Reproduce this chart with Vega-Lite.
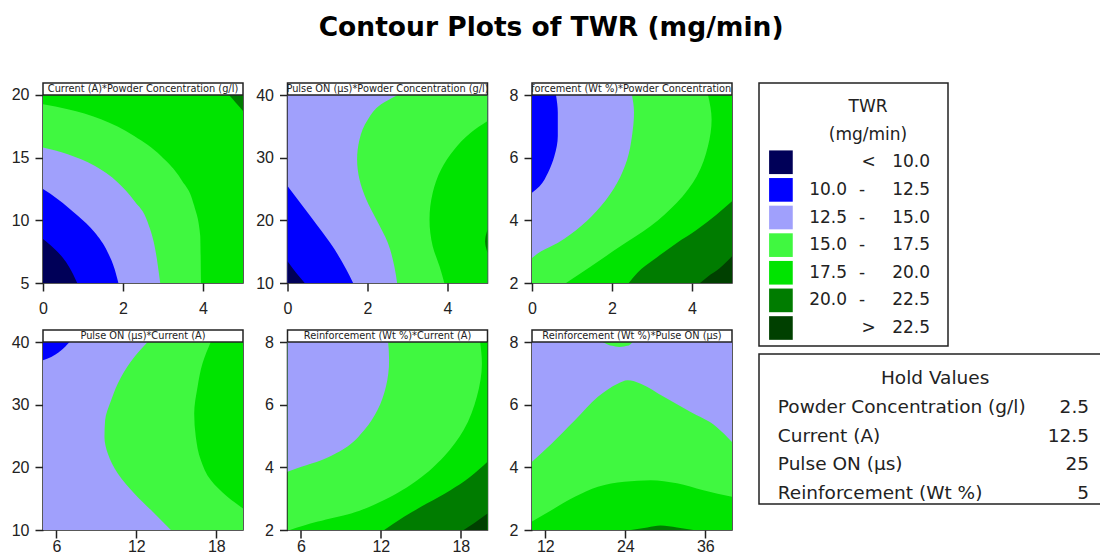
{
"$schema":"https://vega.github.io/schema/vega-lite/v6.json",
"background":"white",
"padding":{"left":10,"top":14,"right":0,"bottom":0},
"title":{"text":"Contour Plots of TWR (mg/min)","fontSize":26.5,"fontWeight":"bold","anchor":"middle","offset":41,"dx":-5,"color":"#000"},
"datasets":{
"p1":[
{"r":"a","l":"17.5-20","x":0,"y":20,"y2":5},{"r":"a","l":"17.5-20","x":5,"y":20,"y2":5},
{"r":"b","l":"15-17.5","x":0,"y":19.26,"y2":5},{"r":"b","l":"15-17.5","x":0.62,"y":18.86,"y2":5},{"r":"b","l":"15-17.5","x":1.45,"y":18.06,"y2":5},{"r":"b","l":"15-17.5","x":2.28,"y":16.73,"y2":5},{"r":"b","l":"15-17.5","x":2.95,"y":15.14,"y2":5},{"r":"b","l":"15-17.5","x":3.45,"y":13.28,"y2":5},{"r":"b","l":"15-17.5","x":3.78,"y":11.16,"y2":5},{"r":"b","l":"15-17.5","x":3.93,"y":8.77,"y2":5},{"r":"b","l":"15-17.5","x":3.95,"y":5,"y2":5},
{"r":"c","l":"12.5-15","x":0,"y":15.81,"y2":5},{"r":"c","l":"12.5-15","x":0.62,"y":15.27,"y2":5},{"r":"c","l":"12.5-15","x":1.29,"y":14.35,"y2":5},{"r":"c","l":"12.5-15","x":1.87,"y":13.02,"y2":5},{"r":"c","l":"12.5-15","x":2.28,"y":11.56,"y2":5},{"r":"c","l":"12.5-15","x":2.62,"y":9.83,"y2":5},{"r":"c","l":"12.5-15","x":2.82,"y":7.44,"y2":5},{"r":"c","l":"12.5-15","x":2.93,"y":5,"y2":5},
{"r":"d","l":"10-12.5","x":0,"y":12.49,"y2":5},{"r":"d","l":"10-12.5","x":0.37,"y":11.69,"y2":5},{"r":"d","l":"10-12.5","x":0.87,"y":10.36,"y2":5},{"r":"d","l":"10-12.5","x":1.29,"y":9.04,"y2":5},{"r":"d","l":"10-12.5","x":1.62,"y":7.44,"y2":5},{"r":"d","l":"10-12.5","x":1.79,"y":6.12,"y2":5},{"r":"d","l":"10-12.5","x":1.885,"y":5,"y2":5},
{"r":"e","l":"<10","x":0,"y":8.51,"y2":5},{"r":"e","l":"<10","x":0.29,"y":7.71,"y2":5},{"r":"e","l":"<10","x":0.58,"y":6.65,"y2":5},{"r":"e","l":"<10","x":0.75,"y":5.72,"y2":5},{"r":"e","l":"<10","x":0.855,"y":5,"y2":5},
{"r":"f","l":"20-22.5","x":4.65,"y":20,"y2":20},{"r":"f","l":"20-22.5","x":4.82,"y":19.39,"y2":20},{"r":"f","l":"20-22.5","x":5,"y":18.73,"y2":20}
],
"p2":[
{"r":"a","l":"12.5-15","x":0,"y":40,"y2":10},{"r":"a","l":"12.5-15","x":5,"y":40,"y2":10},
{"r":"b","l":"10-12.5","x":0,"y":25.46,"y2":10},{"r":"b","l":"10-12.5","x":0.35,"y":22.53,"y2":10},{"r":"b","l":"10-12.5","x":0.76,"y":19.06,"y2":10},{"r":"b","l":"10-12.5","x":1.18,"y":15.33,"y2":10},{"r":"b","l":"10-12.5","x":1.47,"y":12.14,"y2":10},{"r":"b","l":"10-12.5","x":1.64,"y":10,"y2":10},
{"r":"c","l":"<10","x":0,"y":13.47,"y2":10},{"r":"c","l":"<10","x":0.22,"y":11.6,"y2":10},{"r":"c","l":"<10","x":0.43,"y":10,"y2":10},
{"r":"d","l":"15-17.5","y":40,"x":2.76,"x2":5},{"r":"d","l":"15-17.5","y":38.51,"x":2.34,"x2":5},{"r":"d","l":"15-17.5","y":36.11,"x":2.01,"x2":5},{"r":"d","l":"15-17.5","y":32.91,"x":1.8,"x2":5},{"r":"d","l":"15-17.5","y":29.72,"x":1.74,"x2":5},{"r":"d","l":"15-17.5","y":26.52,"x":1.8,"x2":5},{"r":"d","l":"15-17.5","y":23.32,"x":1.97,"x2":5},{"r":"d","l":"15-17.5","y":20.13,"x":2.22,"x2":5},{"r":"d","l":"15-17.5","y":16.4,"x":2.51,"x2":5},{"r":"d","l":"15-17.5","y":12.67,"x":2.67,"x2":5},{"r":"d","l":"15-17.5","y":10,"x":2.74,"x2":5},
{"r":"e","l":"17.5-20","y":35.84,"x":5,"x2":5},{"r":"e","l":"17.5-20","y":33.98,"x":4.58,"x2":5},{"r":"e","l":"17.5-20","y":31.32,"x":4.17,"x2":5},{"r":"e","l":"17.5-20","y":28.12,"x":3.84,"x2":5},{"r":"e","l":"17.5-20","y":24.39,"x":3.63,"x2":5},{"r":"e","l":"17.5-20","y":20.13,"x":3.55,"x2":5},{"r":"e","l":"17.5-20","y":15.87,"x":3.63,"x2":5},{"r":"e","l":"17.5-20","y":12.67,"x":3.8,"x2":5},{"r":"e","l":"17.5-20","y":10,"x":3.92,"x2":5},
{"r":"f","l":"20-22.5","y":18.53,"x":5,"x2":5},{"r":"f","l":"20-22.5","y":16.67,"x":4.94,"x2":5},{"r":"f","l":"20-22.5","y":14.8,"x":5,"x2":5}
],
"p3":[
{"r":"a","l":"15-17.5","x":0,"y":8,"y2":2},{"r":"a","l":"15-17.5","x":5,"y":8,"y2":2},
{"r":"b","l":"12.5-15","y":8,"x":2.5,"x2":0},{"r":"b","l":"12.5-15","y":7.44,"x":2.55,"x2":0},{"r":"b","l":"12.5-15","y":6.69,"x":2.5,"x2":0},{"r":"b","l":"12.5-15","y":5.94,"x":2.38,"x2":0},{"r":"b","l":"12.5-15","y":5.2,"x":2.13,"x2":0},{"r":"b","l":"12.5-15","y":4.45,"x":1.72,"x2":0},{"r":"b","l":"12.5-15","y":3.81,"x":1.22,"x2":0},{"r":"b","l":"12.5-15","y":3.28,"x":0.64,"x2":0},{"r":"b","l":"12.5-15","y":3.01,"x":0.23,"x2":0},{"r":"b","l":"12.5-15","y":2.8,"x":0,"x2":0},
{"r":"c","l":"10-12.5","y":8,"x":0.6,"x2":0},{"r":"c","l":"10-12.5","y":7.44,"x":0.645,"x2":0},{"r":"c","l":"10-12.5","y":6.69,"x":0.645,"x2":0},{"r":"c","l":"10-12.5","y":6.05,"x":0.56,"x2":0},{"r":"c","l":"10-12.5","y":5.52,"x":0.4,"x2":0},{"r":"c","l":"10-12.5","y":5.09,"x":0.19,"x2":0},{"r":"c","l":"10-12.5","y":4.88,"x":0,"x2":0},
{"r":"d","l":"17.5-20","y":8,"x":4.4,"x2":5},{"r":"d","l":"17.5-20","y":7.22,"x":4.49,"x2":5},{"r":"d","l":"17.5-20","y":6.37,"x":4.4,"x2":5},{"r":"d","l":"17.5-20","y":5.41,"x":4.12,"x2":5},{"r":"d","l":"17.5-20","y":4.56,"x":3.62,"x2":5},{"r":"d","l":"17.5-20","y":3.81,"x":2.96,"x2":5},{"r":"d","l":"17.5-20","y":3.17,"x":2.21,"x2":5},{"r":"d","l":"17.5-20","y":2.53,"x":1.47,"x2":5},{"r":"d","l":"17.5-20","y":2,"x":0.85,"x2":5},
{"r":"e","l":"20-22.5","x":2.42,"y":2,"y2":2},{"r":"e","l":"20-22.5","x":2.63,"y":2.32,"y2":2},{"r":"e","l":"20-22.5","x":3.04,"y":2.74,"y2":2},{"r":"e","l":"20-22.5","x":3.62,"y":3.28,"y2":2},{"r":"e","l":"20-22.5","x":4.12,"y":3.7,"y2":2},{"r":"e","l":"20-22.5","x":4.61,"y":4.18,"y2":2},{"r":"e","l":"20-22.5","x":5,"y":4.61,"y2":2},
{"r":"f","l":">22.5","x":4.2,"y":2,"y2":2},{"r":"f","l":">22.5","x":4.4,"y":2.21,"y2":2},{"r":"f","l":">22.5","x":4.69,"y":2.47,"y2":2},{"r":"f","l":">22.5","x":5,"y":2.85,"y2":2}
],
"p4":[
{"r":"a","l":"12.5-15","x":5,"y":40,"y2":10},{"r":"a","l":"12.5-15","x":20,"y":40,"y2":10},
{"r":"b","l":"10-12.5","x":5,"y":37.08,"y2":40},{"r":"b","l":"10-12.5","x":5.62,"y":37.61,"y2":40},{"r":"b","l":"10-12.5","x":6.37,"y":38.67,"y2":40},{"r":"b","l":"10-12.5","x":6.99,"y":40,"y2":40},
{"r":"c","l":"15-17.5","y":40,"x":12.85,"x2":20},{"r":"c","l":"15-17.5","y":37.61,"x":11.85,"x2":20},{"r":"c","l":"15-17.5","y":34.42,"x":10.86,"x2":20},{"r":"c","l":"15-17.5","y":30.71,"x":10.11,"x2":20},{"r":"c","l":"15-17.5","y":27.52,"x":9.66,"x2":20},{"r":"c","l":"15-17.5","y":24.86,"x":9.61,"x2":20},{"r":"c","l":"15-17.5","y":22.21,"x":9.86,"x2":20},{"r":"c","l":"15-17.5","y":19.02,"x":10.61,"x2":20},{"r":"c","l":"15-17.5","y":15.84,"x":11.85,"x2":20},{"r":"c","l":"15-17.5","y":13.18,"x":13.1,"x2":20},{"r":"c","l":"15-17.5","y":10,"x":14.59,"x2":20},
{"r":"d","l":"17.5-20","y":40,"x":17.58,"x2":20},{"r":"d","l":"17.5-20","y":36.55,"x":16.96,"x2":20},{"r":"d","l":"17.5-20","y":32.83,"x":16.59,"x2":20},{"r":"d","l":"17.5-20","y":28.58,"x":16.34,"x2":20},{"r":"d","l":"17.5-20","y":24.86,"x":16.46,"x2":20},{"r":"d","l":"17.5-20","y":21.15,"x":16.84,"x2":20},{"r":"d","l":"17.5-20","y":17.96,"x":17.58,"x2":20},{"r":"d","l":"17.5-20","y":15.31,"x":18.83,"x2":20},{"r":"d","l":"17.5-20","y":13.45,"x":20,"x2":20}
],
"p5":[
{"r":"a","l":"15-17.5","x":5,"y":8,"y2":2},{"r":"a","l":"15-17.5","x":20,"y":8,"y2":2},
{"r":"b","l":"12.5-15","y":8,"x":12.55,"x2":5},{"r":"b","l":"12.5-15","y":7.42,"x":12.62,"x2":5},{"r":"b","l":"12.5-15","y":6.57,"x":12.38,"x2":5},{"r":"b","l":"12.5-15","y":5.83,"x":11.75,"x2":5},{"r":"b","l":"12.5-15","y":5.19,"x":10.76,"x2":5},{"r":"b","l":"12.5-15","y":4.6,"x":9.27,"x2":5},{"r":"b","l":"12.5-15","y":4.23,"x":7.53,"x2":5},{"r":"b","l":"12.5-15","y":4.02,"x":6.04,"x2":5},{"r":"b","l":"12.5-15","y":3.86,"x":5,"x2":5},
{"r":"c","l":"17.5-20","y":8,"x":19.45,"x2":20},{"r":"c","l":"17.5-20","y":7.31,"x":19.58,"x2":20},{"r":"c","l":"17.5-20","y":6.25,"x":19.2,"x2":20},{"r":"c","l":"17.5-20","y":5.19,"x":18.21,"x2":20},{"r":"c","l":"17.5-20","y":4.34,"x":16.72,"x2":20},{"r":"c","l":"17.5-20","y":3.59,"x":14.73,"x2":20},{"r":"c","l":"17.5-20","y":2.96,"x":12.25,"x2":20},{"r":"c","l":"17.5-20","y":2.53,"x":9.77,"x2":20},{"r":"c","l":"17.5-20","y":2.27,"x":7.28,"x2":20},{"r":"c","l":"17.5-20","y":2,"x":5.17,"x2":20},
{"r":"d","l":"20-22.5","x":12.25,"y":2,"y2":2},{"r":"d","l":"20-22.5","x":13.74,"y":2.42,"y2":2},{"r":"d","l":"20-22.5","x":15.48,"y":2.85,"y2":2},{"r":"d","l":"20-22.5","x":17.22,"y":3.27,"y2":2},{"r":"d","l":"20-22.5","x":18.71,"y":3.7,"y2":2},{"r":"d","l":"20-22.5","x":20,"y":4.18,"y2":2},
{"r":"e","l":">22.5","x":18.21,"y":2,"y2":2},{"r":"e","l":">22.5","x":18.96,"y":2.21,"y2":2},{"r":"e","l":">22.5","x":20,"y":2.53,"y2":2}
],
"p6":[
{"r":"a","l":"12.5-15","x":10,"y":8,"y2":2},{"r":"a","l":"12.5-15","x":40,"y":8,"y2":2},
{"r":"b","l":"15-17.5","x":10,"y":4.18,"y2":2},{"r":"b","l":"15-17.5","x":12.97,"y":4.76,"y2":2},{"r":"b","l":"15-17.5","x":16.43,"y":5.5,"y2":2},{"r":"b","l":"15-17.5","x":19.89,"y":6.25,"y2":2},{"r":"b","l":"15-17.5","x":22.85,"y":6.67,"y2":2},{"r":"b","l":"15-17.5","x":24.34,"y":6.78,"y2":2},{"r":"b","l":"15-17.5","x":26.31,"y":6.67,"y2":2},{"r":"b","l":"15-17.5","x":29.77,"y":6.25,"y2":2},{"r":"b","l":"15-17.5","x":33.73,"y":5.77,"y2":2},{"r":"b","l":"15-17.5","x":37.68,"y":5.29,"y2":2},{"r":"b","l":"15-17.5","x":40,"y":4.81,"y2":2},
{"r":"c","l":"15-17.5","y":7.84,"x":23.1,"x2":23.1},{"r":"c","l":"15-17.5","y":7.88,"x":22.0,"x2":24.3},{"r":"c","l":"15-17.5","y":7.94,"x":21.2,"x2":24.8},{"r":"c","l":"15-17.5","y":8,"x":20.6,"x2":25.1},
{"r":"d","l":"17.5-20","x":10,"y":2.27,"y2":2},{"r":"d","l":"17.5-20","x":12.97,"y":2.64,"y2":2},{"r":"d","l":"17.5-20","x":16.43,"y":3.06,"y2":2},{"r":"d","l":"17.5-20","x":19.89,"y":3.38,"y2":2},{"r":"d","l":"17.5-20","x":23.84,"y":3.54,"y2":2},{"r":"d","l":"17.5-20","x":27.8,"y":3.59,"y2":2},{"r":"d","l":"17.5-20","x":31.75,"y":3.49,"y2":2},{"r":"d","l":"17.5-20","x":35.7,"y":3.27,"y2":2},{"r":"d","l":"17.5-20","x":40,"y":3.06,"y2":2},
{"r":"e","l":"20-22.5","x":24.83,"y":2,"y2":2},{"r":"e","l":"20-22.5","x":27.3,"y":2.08,"y2":2},{"r":"e","l":"20-22.5","x":29.28,"y":2.14,"y2":2},{"r":"e","l":"20-22.5","x":31.75,"y":2.08,"y2":2},{"r":"e","l":"20-22.5","x":34.22,"y":2,"y2":2}
],
"leg":[
{"l":"<10","lo":"","d":"","c":"<","hi":"10.0"},
{"l":"10-12.5","lo":"10.0","d":"-","c":"","hi":"12.5"},
{"l":"12.5-15","lo":"12.5","d":"-","c":"","hi":"15.0"},
{"l":"15-17.5","lo":"15.0","d":"-","c":"","hi":"17.5"},
{"l":"17.5-20","lo":"17.5","d":"-","c":"","hi":"20.0"},
{"l":"20-22.5","lo":"20.0","d":"-","c":"","hi":"22.5"},
{"l":">22.5","lo":"","d":"","c":">","hi":"22.5"}
],
"hold":[
{"k":"Powder Concentration (g/l)","v":"2.5"},
{"k":"Current (A)","v":"12.5"},
{"k":"Pulse ON (µs)","v":"25"},
{"k":"Reinforcement (Wt %)","v":"5"}
]
},
"hconcat":[
{"vconcat":[
{"hconcat":[
{"width":200,"height":200,"data":{"name":"p1"},"layer":[
{"transform":[{"filter":"datum.r=='a'"}],"mark":{"type":"area","orient":"vertical","clip":true},"encoding":{"x":{"field":"x","type":"quantitative","title":null,"scale":{"domain":[0,5],"nice":false,"zero":false},"axis":{"values":[0,2,4],"labelPadding":9}},"y":{"field":"y","type":"quantitative","title":null,"stack":null,"scale":{"domain":[5,20.957],"nice":false,"zero":false},"axis":{"values":[5,10,15,20]}},"y2":{"field":"y2"},"color":{"field":"l","type":"nominal","legend":null,"scale":{"domain":["<10","10-12.5","12.5-15","15-17.5","17.5-20","20-22.5",">22.5"],"range":["#000058","#0000ff","#a0a0fc","#40f840","#00e400","#007c00","#004000"]}}}},
{"transform":[{"filter":"datum.r=='b'"}],"mark":{"type":"area","orient":"vertical","clip":true,"interpolate":"monotone"},"encoding":{"x":{"field":"x","type":"quantitative","title":null},"y":{"field":"y","type":"quantitative","title":null,"stack":null},"y2":{"field":"y2"},"color":{"field":"l","type":"nominal","legend":null}}},
{"transform":[{"filter":"datum.r=='c'"}],"mark":{"type":"area","orient":"vertical","clip":true,"interpolate":"monotone"},"encoding":{"x":{"field":"x","type":"quantitative","title":null},"y":{"field":"y","type":"quantitative","title":null,"stack":null},"y2":{"field":"y2"},"color":{"field":"l","type":"nominal","legend":null}}},
{"transform":[{"filter":"datum.r=='d'"}],"mark":{"type":"area","orient":"vertical","clip":true,"interpolate":"monotone"},"encoding":{"x":{"field":"x","type":"quantitative","title":null},"y":{"field":"y","type":"quantitative","title":null,"stack":null},"y2":{"field":"y2"},"color":{"field":"l","type":"nominal","legend":null}}},
{"transform":[{"filter":"datum.r=='e'"}],"mark":{"type":"area","orient":"vertical","clip":true,"interpolate":"monotone"},"encoding":{"x":{"field":"x","type":"quantitative","title":null},"y":{"field":"y","type":"quantitative","title":null,"stack":null},"y2":{"field":"y2"},"color":{"field":"l","type":"nominal","legend":null}}},
{"transform":[{"filter":"datum.r=='f'"}],"mark":{"type":"area","orient":"vertical","clip":true,"interpolate":"monotone"},"encoding":{"x":{"field":"x","type":"quantitative","title":null},"y":{"field":"y","type":"quantitative","title":null,"stack":null},"y2":{"field":"y2"},"color":{"field":"l","type":"nominal","legend":null}}},
{"data":{"values":[{"v":20}]},"mark":{"type":"rule","color":"#222","strokeWidth":1.5},"encoding":{"y":{"field":"v","type":"quantitative","title":null}}},
{"data":{"values":[{"t":"Current (A)*Powder Concentration (g/l)"}]},"mark":{"type":"text","clip":true,"fontSize":9.8,"color":"#222","baseline":"middle"},"encoding":{"x":{"datum":2.5,"type":"quantitative"},"y":{"datum":20.48,"type":"quantitative"},"text":{"field":"t"}}}
]},
{"width":200,"height":200,"data":{"name":"p2"},"layer":[
{"transform":[{"filter":"datum.r=='a'"}],"mark":{"type":"area","orient":"vertical","clip":true},"encoding":{"x":{"field":"x","type":"quantitative","title":null,"scale":{"domain":[0,5],"nice":false,"zero":false},"axis":{"values":[0,2,4],"labelPadding":9}},"y":{"field":"y","type":"quantitative","title":null,"stack":null,"scale":{"domain":[10,41.915],"nice":false,"zero":false},"axis":{"values":[10,20,30,40]}},"y2":{"field":"y2"},"color":{"field":"l","type":"nominal","legend":null,"scale":{"domain":["<10","10-12.5","12.5-15","15-17.5","17.5-20","20-22.5",">22.5"],"range":["#000058","#0000ff","#a0a0fc","#40f840","#00e400","#007c00","#004000"]}}}},
{"transform":[{"filter":"datum.r=='b'"}],"mark":{"type":"area","orient":"vertical","clip":true,"interpolate":"monotone"},"encoding":{"x":{"field":"x","type":"quantitative","title":null},"y":{"field":"y","type":"quantitative","title":null,"stack":null},"y2":{"field":"y2"},"color":{"field":"l","type":"nominal","legend":null}}},
{"transform":[{"filter":"datum.r=='c'"}],"mark":{"type":"area","orient":"vertical","clip":true,"interpolate":"monotone"},"encoding":{"x":{"field":"x","type":"quantitative","title":null},"y":{"field":"y","type":"quantitative","title":null,"stack":null},"y2":{"field":"y2"},"color":{"field":"l","type":"nominal","legend":null}}},
{"transform":[{"filter":"datum.r=='d'"}],"mark":{"type":"area","orient":"horizontal","clip":true,"interpolate":"monotone"},"encoding":{"y":{"field":"y","type":"quantitative","title":null},"x":{"field":"x","type":"quantitative","title":null,"stack":null},"x2":{"field":"x2"},"color":{"field":"l","type":"nominal","legend":null}}},
{"transform":[{"filter":"datum.r=='e'"}],"mark":{"type":"area","orient":"horizontal","clip":true,"interpolate":"monotone"},"encoding":{"y":{"field":"y","type":"quantitative","title":null},"x":{"field":"x","type":"quantitative","title":null,"stack":null},"x2":{"field":"x2"},"color":{"field":"l","type":"nominal","legend":null}}},
{"transform":[{"filter":"datum.r=='f'"}],"mark":{"type":"area","orient":"horizontal","clip":true,"interpolate":"monotone"},"encoding":{"y":{"field":"y","type":"quantitative","title":null},"x":{"field":"x","type":"quantitative","title":null,"stack":null},"x2":{"field":"x2"},"color":{"field":"l","type":"nominal","legend":null}}},
{"data":{"values":[{"v":40}]},"mark":{"type":"rule","color":"#222","strokeWidth":1.5},"encoding":{"y":{"field":"v","type":"quantitative","title":null}}},
{"data":{"values":[{"t":"Pulse ON (µs)*Powder Concentration (g/l)"}]},"mark":{"type":"text","clip":true,"fontSize":9.8,"color":"#222","baseline":"middle"},"encoding":{"x":{"datum":2.5,"type":"quantitative"},"y":{"datum":40.96,"type":"quantitative"},"text":{"field":"t"}}}
]},
{"width":200,"height":200,"data":{"name":"p3"},"layer":[
{"transform":[{"filter":"datum.r=='a'"}],"mark":{"type":"area","orient":"vertical","clip":true},"encoding":{"x":{"field":"x","type":"quantitative","title":null,"scale":{"domain":[0,5],"nice":false,"zero":false},"axis":{"values":[0,2,4],"labelPadding":9}},"y":{"field":"y","type":"quantitative","title":null,"stack":null,"scale":{"domain":[2,8.383],"nice":false,"zero":false},"axis":{"values":[2,4,6,8]}},"y2":{"field":"y2"},"color":{"field":"l","type":"nominal","legend":null,"scale":{"domain":["<10","10-12.5","12.5-15","15-17.5","17.5-20","20-22.5",">22.5"],"range":["#000058","#0000ff","#a0a0fc","#40f840","#00e400","#007c00","#004000"]}}}},
{"transform":[{"filter":"datum.r=='b'"}],"mark":{"type":"area","orient":"horizontal","clip":true,"interpolate":"monotone"},"encoding":{"y":{"field":"y","type":"quantitative","title":null},"x":{"field":"x","type":"quantitative","title":null,"stack":null},"x2":{"field":"x2"},"color":{"field":"l","type":"nominal","legend":null}}},
{"transform":[{"filter":"datum.r=='c'"}],"mark":{"type":"area","orient":"horizontal","clip":true,"interpolate":"monotone"},"encoding":{"y":{"field":"y","type":"quantitative","title":null},"x":{"field":"x","type":"quantitative","title":null,"stack":null},"x2":{"field":"x2"},"color":{"field":"l","type":"nominal","legend":null}}},
{"transform":[{"filter":"datum.r=='d'"}],"mark":{"type":"area","orient":"horizontal","clip":true,"interpolate":"monotone"},"encoding":{"y":{"field":"y","type":"quantitative","title":null},"x":{"field":"x","type":"quantitative","title":null,"stack":null},"x2":{"field":"x2"},"color":{"field":"l","type":"nominal","legend":null}}},
{"transform":[{"filter":"datum.r=='e'"}],"mark":{"type":"area","orient":"vertical","clip":true,"interpolate":"monotone"},"encoding":{"x":{"field":"x","type":"quantitative","title":null},"y":{"field":"y","type":"quantitative","title":null,"stack":null},"y2":{"field":"y2"},"color":{"field":"l","type":"nominal","legend":null}}},
{"transform":[{"filter":"datum.r=='f'"}],"mark":{"type":"area","orient":"vertical","clip":true,"interpolate":"monotone"},"encoding":{"x":{"field":"x","type":"quantitative","title":null},"y":{"field":"y","type":"quantitative","title":null,"stack":null},"y2":{"field":"y2"},"color":{"field":"l","type":"nominal","legend":null}}},
{"data":{"values":[{"v":8}]},"mark":{"type":"rule","color":"#222","strokeWidth":1.5},"encoding":{"y":{"field":"v","type":"quantitative","title":null}}},
{"data":{"values":[{"t":"Reinforcement (Wt %)*Powder Concentration (g/l)"}]},"mark":{"type":"text","clip":true,"fontSize":9.8,"color":"#222","baseline":"middle"},"encoding":{"x":{"datum":2.5,"type":"quantitative"},"y":{"datum":8.19,"type":"quantitative"},"text":{"field":"t"}}}
]}
],"spacing":44.5,"bounds":"flush"},
{"hconcat":[
{"width":200,"height":200,"data":{"name":"p4"},"layer":[
{"transform":[{"filter":"datum.r=='a'"}],"mark":{"type":"area","orient":"vertical","clip":true},"encoding":{"x":{"field":"x","type":"quantitative","title":null,"scale":{"domain":[5,20],"nice":false,"zero":false},"axis":{"values":[6,12,18],"labelPadding":0}},"y":{"field":"y","type":"quantitative","title":null,"stack":null,"scale":{"domain":[10,41.915],"nice":false,"zero":false},"axis":{"values":[10,20,30,40]}},"y2":{"field":"y2"},"color":{"field":"l","type":"nominal","legend":null,"scale":{"domain":["<10","10-12.5","12.5-15","15-17.5","17.5-20","20-22.5",">22.5"],"range":["#000058","#0000ff","#a0a0fc","#40f840","#00e400","#007c00","#004000"]}}}},
{"transform":[{"filter":"datum.r=='b'"}],"mark":{"type":"area","orient":"vertical","clip":true,"interpolate":"monotone"},"encoding":{"x":{"field":"x","type":"quantitative","title":null},"y":{"field":"y","type":"quantitative","title":null,"stack":null},"y2":{"field":"y2"},"color":{"field":"l","type":"nominal","legend":null}}},
{"transform":[{"filter":"datum.r=='c'"}],"mark":{"type":"area","orient":"horizontal","clip":true,"interpolate":"monotone"},"encoding":{"y":{"field":"y","type":"quantitative","title":null},"x":{"field":"x","type":"quantitative","title":null,"stack":null},"x2":{"field":"x2"},"color":{"field":"l","type":"nominal","legend":null}}},
{"transform":[{"filter":"datum.r=='d'"}],"mark":{"type":"area","orient":"horizontal","clip":true,"interpolate":"monotone"},"encoding":{"y":{"field":"y","type":"quantitative","title":null},"x":{"field":"x","type":"quantitative","title":null,"stack":null},"x2":{"field":"x2"},"color":{"field":"l","type":"nominal","legend":null}}},
{"data":{"values":[{"v":40}]},"mark":{"type":"rule","color":"#222","strokeWidth":1.5},"encoding":{"y":{"field":"v","type":"quantitative","title":null}}},
{"data":{"values":[{"t":"Pulse ON (µs)*Current (A)"}]},"mark":{"type":"text","clip":true,"fontSize":9.8,"color":"#222","baseline":"middle"},"encoding":{"x":{"datum":12.5,"type":"quantitative"},"y":{"datum":40.96,"type":"quantitative"},"text":{"field":"t"}}}
]},
{"width":200,"height":200,"data":{"name":"p5"},"layer":[
{"transform":[{"filter":"datum.r=='a'"}],"mark":{"type":"area","orient":"vertical","clip":true},"encoding":{"x":{"field":"x","type":"quantitative","title":null,"scale":{"domain":[5,20],"nice":false,"zero":false},"axis":{"values":[6,12,18],"labelPadding":0}},"y":{"field":"y","type":"quantitative","title":null,"stack":null,"scale":{"domain":[2,8.383],"nice":false,"zero":false},"axis":{"values":[2,4,6,8]}},"y2":{"field":"y2"},"color":{"field":"l","type":"nominal","legend":null,"scale":{"domain":["<10","10-12.5","12.5-15","15-17.5","17.5-20","20-22.5",">22.5"],"range":["#000058","#0000ff","#a0a0fc","#40f840","#00e400","#007c00","#004000"]}}}},
{"transform":[{"filter":"datum.r=='b'"}],"mark":{"type":"area","orient":"horizontal","clip":true,"interpolate":"monotone"},"encoding":{"y":{"field":"y","type":"quantitative","title":null},"x":{"field":"x","type":"quantitative","title":null,"stack":null},"x2":{"field":"x2"},"color":{"field":"l","type":"nominal","legend":null}}},
{"transform":[{"filter":"datum.r=='c'"}],"mark":{"type":"area","orient":"horizontal","clip":true,"interpolate":"monotone"},"encoding":{"y":{"field":"y","type":"quantitative","title":null},"x":{"field":"x","type":"quantitative","title":null,"stack":null},"x2":{"field":"x2"},"color":{"field":"l","type":"nominal","legend":null}}},
{"transform":[{"filter":"datum.r=='d'"}],"mark":{"type":"area","orient":"vertical","clip":true,"interpolate":"monotone"},"encoding":{"x":{"field":"x","type":"quantitative","title":null},"y":{"field":"y","type":"quantitative","title":null,"stack":null},"y2":{"field":"y2"},"color":{"field":"l","type":"nominal","legend":null}}},
{"transform":[{"filter":"datum.r=='e'"}],"mark":{"type":"area","orient":"vertical","clip":true,"interpolate":"monotone"},"encoding":{"x":{"field":"x","type":"quantitative","title":null},"y":{"field":"y","type":"quantitative","title":null,"stack":null},"y2":{"field":"y2"},"color":{"field":"l","type":"nominal","legend":null}}},
{"data":{"values":[{"v":8}]},"mark":{"type":"rule","color":"#222","strokeWidth":1.5},"encoding":{"y":{"field":"v","type":"quantitative","title":null}}},
{"data":{"values":[{"t":"Reinforcement (Wt %)*Current (A)"}]},"mark":{"type":"text","clip":true,"fontSize":9.8,"color":"#222","baseline":"middle"},"encoding":{"x":{"datum":12.5,"type":"quantitative"},"y":{"datum":8.19,"type":"quantitative"},"text":{"field":"t"}}}
]},
{"width":200,"height":200,"data":{"name":"p6"},"layer":[
{"transform":[{"filter":"datum.r=='a'"}],"mark":{"type":"area","orient":"vertical","clip":true},"encoding":{"x":{"field":"x","type":"quantitative","title":null,"scale":{"domain":[10,40],"nice":false,"zero":false},"axis":{"values":[12,24,36],"labelPadding":0}},"y":{"field":"y","type":"quantitative","title":null,"stack":null,"scale":{"domain":[2,8.383],"nice":false,"zero":false},"axis":{"values":[2,4,6,8]}},"y2":{"field":"y2"},"color":{"field":"l","type":"nominal","legend":null,"scale":{"domain":["<10","10-12.5","12.5-15","15-17.5","17.5-20","20-22.5",">22.5"],"range":["#000058","#0000ff","#a0a0fc","#40f840","#00e400","#007c00","#004000"]}}}},
{"transform":[{"filter":"datum.r=='b'"}],"mark":{"type":"area","orient":"vertical","clip":true,"interpolate":"monotone"},"encoding":{"x":{"field":"x","type":"quantitative","title":null},"y":{"field":"y","type":"quantitative","title":null,"stack":null},"y2":{"field":"y2"},"color":{"field":"l","type":"nominal","legend":null}}},
{"transform":[{"filter":"datum.r=='c'"}],"mark":{"type":"area","orient":"horizontal","clip":true,"interpolate":"monotone"},"encoding":{"y":{"field":"y","type":"quantitative","title":null},"x":{"field":"x","type":"quantitative","title":null,"stack":null},"x2":{"field":"x2"},"color":{"field":"l","type":"nominal","legend":null}}},
{"transform":[{"filter":"datum.r=='d'"}],"mark":{"type":"area","orient":"vertical","clip":true,"interpolate":"monotone"},"encoding":{"x":{"field":"x","type":"quantitative","title":null},"y":{"field":"y","type":"quantitative","title":null,"stack":null},"y2":{"field":"y2"},"color":{"field":"l","type":"nominal","legend":null}}},
{"transform":[{"filter":"datum.r=='e'"}],"mark":{"type":"area","orient":"vertical","clip":true,"interpolate":"monotone"},"encoding":{"x":{"field":"x","type":"quantitative","title":null},"y":{"field":"y","type":"quantitative","title":null,"stack":null},"y2":{"field":"y2"},"color":{"field":"l","type":"nominal","legend":null}}},
{"data":{"values":[{"v":8}]},"mark":{"type":"rule","color":"#222","strokeWidth":1.5},"encoding":{"y":{"field":"v","type":"quantitative","title":null}}},
{"data":{"values":[{"t":"Reinforcement (Wt %)*Pulse ON (µs)"}]},"mark":{"type":"text","clip":true,"fontSize":9.8,"color":"#222","baseline":"middle"},"encoding":{"x":{"datum":25,"type":"quantitative"},"y":{"datum":8.19,"type":"quantitative"},"text":{"field":"t"}}}
]}
],"spacing":44.5,"bounds":"flush"}
],"spacing":12},
{"vconcat":[
{"width":189,"height":263,"layer":[
{"data":{"values":[{"k":"t1","t":"TWR"},{"k":"t2","t":"(mg/min)"}]},"mark":{"type":"text","fontSize":17,"align":"center","baseline":"middle","color":"#222"},"encoding":{"x":{"datum":0.577,"type":"quantitative","scale":{"domain":[0,1],"nice":false,"zero":false},"axis":null},"y":{"field":"k","type":"ordinal","scale":{"type":"point","domain":["t1","t2","<10","10-12.5","12.5-15","15-17.5","17.5-20","20-22.5",">22.5"],"range":[24,245],"padding":0},"axis":null},"text":{"field":"t"}}},
{"data":{"name":"leg"},"mark":{"type":"square","size":560,"opacity":1,"filled":true},"encoding":{"x":{"datum":0.116,"type":"quantitative"},"y":{"field":"l","type":"ordinal"},"color":{"field":"l","type":"nominal","legend":null,"scale":{"domain":["<10","10-12.5","12.5-15","15-17.5","17.5-20","20-22.5",">22.5"],"range":["#000058","#0000ff","#a0a0fc","#40f840","#00e400","#007c00","#004000"]}}}},
{"data":{"name":"leg"},"mark":{"type":"text","fontSize":17,"align":"right","baseline":"middle","color":"#222"},"encoding":{"x":{"datum":0.466,"type":"quantitative"},"y":{"field":"l","type":"ordinal"},"text":{"field":"lo"}}},
{"data":{"name":"leg"},"mark":{"type":"text","fontSize":17,"align":"center","baseline":"middle","color":"#222"},"encoding":{"x":{"datum":0.545,"type":"quantitative"},"y":{"field":"l","type":"ordinal"},"text":{"field":"d"}}},
{"data":{"name":"leg"},"mark":{"type":"text","fontSize":17,"align":"center","baseline":"middle","color":"#222"},"encoding":{"x":{"datum":0.58,"type":"quantitative"},"y":{"field":"l","type":"ordinal"},"text":{"field":"c"}}},
{"data":{"name":"leg"},"mark":{"type":"text","fontSize":17,"align":"right","baseline":"middle","color":"#222"},"encoding":{"x":{"datum":0.905,"type":"quantitative"},"y":{"field":"l","type":"ordinal"},"text":{"field":"hi"}}}
]},
{"width":342,"height":150,"layer":[
{"data":{"values":[{"k":"h","t":"Hold Values"}]},"mark":{"type":"text","fontSize":18.5,"align":"center","baseline":"middle","color":"#222"},"encoding":{"x":{"datum":0.515,"type":"quantitative","scale":{"domain":[0,1],"nice":false,"zero":false},"axis":null},"y":{"field":"k","type":"ordinal","scale":{"type":"point","domain":["h","Powder Concentration (g/l)","Current (A)","Pulse ON (µs)","Reinforcement (Wt %)"],"range":[24,139],"padding":0},"axis":null},"text":{"field":"t"}}},
{"data":{"name":"hold"},"mark":{"type":"text","fontSize":18.5,"align":"left","baseline":"middle","color":"#222"},"encoding":{"x":{"datum":0.055,"type":"quantitative"},"y":{"field":"k","type":"ordinal"},"text":{"field":"k"}}},
{"data":{"name":"hold"},"mark":{"type":"text","fontSize":18.5,"align":"right","baseline":"middle","color":"#222"},"encoding":{"x":{"datum":0.965,"type":"quantitative"},"y":{"field":"k","type":"ordinal"},"text":{"field":"v"}}}
]}
],"spacing":6}
],
"spacing":24,
"config":{
"font":"DejaVu Sans",
"view":{"stroke":"#222","strokeWidth":1.5},
"axis":{"grid":false,"domain":false,"tickColor":"#222","tickWidth":1.5,"tickSize":8,"labelFont":"Liberation Sans","labelFontSize":16,"labelColor":"#222","labelFlush":false,"labelOverlap":false},
"axisX":{"labelPadding":5},
"axisY":{"labelPadding":6}
}
}
